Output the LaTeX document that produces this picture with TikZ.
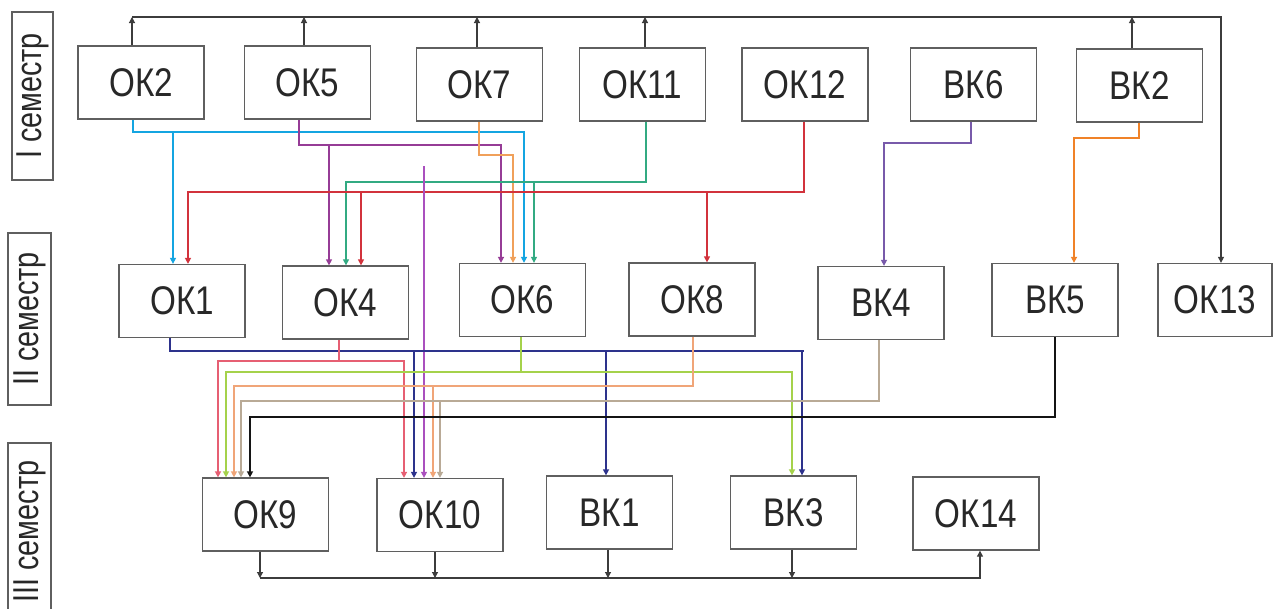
\documentclass[tikz,border=0pt]{standalone}
\usepackage{fontspec}
\setmainfont{Liberation Sans}
\newfontfamily\boxfont[FakeStretch=0.83]{Liberation Sans}
\newfontfamily\semfont[FakeStretch=0.8]{Liberation Sans}
\usetikzlibrary{arrows.meta}
\definecolor{boxgray}{RGB}{95,95,95}
\definecolor{textgray}{RGB}{40,40,40}
\definecolor{cyanL}{RGB}{20,165,225}
\definecolor{purpL}{RGB}{150,60,150}
\definecolor{orL}{RGB}{240,160,90}
\definecolor{tealL}{RGB}{50,170,130}
\definecolor{redL}{RGB}{210,50,60}
\definecolor{magL}{RGB}{170,80,190}
\definecolor{violL}{RGB}{120,90,170}
\definecolor{orTwo}{RGB}{240,130,40}
\definecolor{navyL}{RGB}{45,50,140}
\definecolor{pinkL}{RGB}{230,95,115}
\definecolor{ygL}{RGB}{165,210,75}
\definecolor{peachL}{RGB}{240,165,120}
\definecolor{tanL}{RGB}{185,170,150}
\definecolor{blackL}{RGB}{20,20,20}
\definecolor{busL}{RGB}{60,60,60}
\begin{document}
\begin{tikzpicture}[x=1pt,y=-1pt,
  kbox/.style={draw=boxgray,line width=1.3pt,minimum width=126pt,minimum height=73pt,inner sep=0pt,
    font=\boxfont\fontsize{40}{44}\selectfont,text=textgray},
  sembox/.style={draw=boxgray,line width=1.3pt,inner sep=0pt,rotate=90,
    font=\semfont\fontsize{36}{40}\selectfont,text=textgray},
  tip/.style={-{Triangle[length=6pt,width=6pt]}},
  bus/.style={draw=busL,line width=1.1pt},
  lnk/.style={line width=#1},
  lnk/.default=1.5pt]
\fill[white] (0,0) rectangle (1274,608);
\useasboundingbox (0,0) rectangle (1274,608);

% semester labels
\node[sembox,minimum width=168pt,minimum height=41pt] (s1) at (32.5,96) {I семестр};
\node[sembox,minimum width=172pt,minimum height=43pt] (s2) at (29.5,319) {II семестр};
\node[sembox,minimum width=177pt,minimum height=43pt] (s3) at (29.5,531.5) {III семестр};

% row 1
\node[kbox] (ok2) at (141,82.5) {ОК2};
\node[kbox] (ok5) at (307.5,82.5) {ОК5};
\node[kbox] (ok7) at (479.5,84.5) {ОК7};
\node[kbox] (ok11) at (642.5,84.5) {ОК11};
\node[kbox] (ok12) at (805,84.5) {ОК12};
\node[kbox] (vk6) at (973.5,84.5) {ВК6};
\node[kbox] (vk2) at (1139.5,85.5) {ВК2};
% row 2
\node[kbox] (ok1) at (182,301) {ОК1};
\node[kbox] (ok4) at (345.5,302.5) {ОК4};
\node[kbox] (ok6) at (522.5,300) {ОК6};
\node[kbox] (ok8) at (692,299.5) {ОК8};
\node[kbox] (vk4) at (881,303) {ВК4};
\node[kbox] (vk5) at (1055,300) {ВК5};
\node[kbox,minimum width=114pt] (ok13) at (1215,300) {ОК13};
% row 3
\node[kbox] (ok9) at (265.5,514.5) {ОК9};
\node[kbox] (ok10) at (440,515) {ОК10};
\node[kbox] (vk1) at (609.5,512.5) {ВК1};
\node[kbox] (vk3) at (793.5,512.5) {ВК3};
\node[kbox] (ok14) at (976,513.5) {ОК14};

% ---------- top bus ----------
\coordinate (hTop) at (0,17);
\coordinate (u2) at ([xshift=-9pt]ok2.north);
\coordinate (u5) at ([xshift=-3.5pt]ok5.north);
\coordinate (u7) at ([xshift=-2.5pt]ok7.north);
\coordinate (u11) at ([xshift=2.5pt]ok11.north);
\coordinate (uv2) at ([xshift=-7.5pt]vk2.north);
\coordinate (n13) at ([xshift=6pt]ok13.north);
\draw[bus,tip] (u2 |- hTop) -- (n13 |- hTop) -- (n13);
\foreach \c in {u2,u5,u7,u11,uv2} \draw[bus,tip] (\c) -- (\c |- hTop);

% ---------- bottom bus ----------
\coordinate (hBot) at (0,578);
\coordinate (d9) at ([xshift=-5.5pt]ok9.south);
\coordinate (d10) at ([xshift=-5pt]ok10.south);
\coordinate (dv1) at ([xshift=-1.5pt]vk1.south);
\coordinate (dv3) at ([xshift=-1.5pt]vk3.south);
\coordinate (s14) at ([xshift=4pt]ok14.south);
\draw[bus,tip] (d9 |- hBot) -- (s14 |- hBot) -- (s14);
\foreach \c in {d9,d10,dv1,dv3} \draw[bus,tip] (\c) -- (\c |- hBot);

% ---------- cyan: OK2 ----------
\coordinate (hCy) at (0,132);
\coordinate (ok2c) at ([xshift=-8pt]ok2.south);
\coordinate (ok1cy) at ([xshift=-9pt]ok1.north);
\coordinate (ok6cy) at ([xshift=1.5pt]ok6.north);
\draw[cyanL,lnk=2.2pt,tip] (ok2c) -- (ok2c |- hCy) -| (ok6cy);
\draw[cyanL,lnk=1.3pt,tip] (ok1cy |- hCy) -- (ok1cy);

% ---------- purple: OK5 ----------
\coordinate (hPu) at (0,145);
\coordinate (ok5p) at ([xshift=-8.5pt]ok5.south);
\coordinate (ok4pu) at ([xshift=-16.5pt]ok4.north);
\coordinate (ok6pu) at ([xshift=-21.5pt]ok6.north);
\draw[purpL,lnk=1.9pt,tip] (ok5p) -- (ok5p |- hPu) -| (ok6pu);
\draw[purpL,lnk=1.3pt,tip] (ok4pu |- hPu) -- (ok4pu);

% ---------- orange: OK7 ----------
\coordinate (hOr) at (0,155);
\coordinate (ok7o) at ([xshift=-0.5pt]ok7.south);
\coordinate (ok6or) at ([xshift=-9.5pt]ok6.north);
\draw[orL,lnk=1.6pt,tip] (ok7o) -- (ok7o |- hOr) -| (ok6or);

% ---------- teal: OK11 ----------
\coordinate (hTe) at (0,182);
\coordinate (ok11t) at ([xshift=3.5pt]ok11.south);
\coordinate (ok4te) at ([xshift=0.5pt]ok4.north);
\coordinate (ok6te) at ([xshift=11.5pt]ok6.north);
\draw[tealL,lnk=1.2pt,tip] (ok11t) -- (ok11t |- hTe) -| (ok4te);
\draw[tealL,lnk=1.2pt,tip] (ok6te |- hTe) -- (ok6te);

% ---------- red: OK12 ----------
\coordinate (hRe) at (0,192);
\coordinate (ok12r) at ([xshift=-1pt]ok12.south);
\coordinate (ok1re) at ([xshift=6pt]ok1.north);
\coordinate (ok4re) at ([xshift=15.5pt]ok4.north);
\coordinate (ok8re) at ([xshift=15pt]ok8.north);
\draw[redL,lnk=2pt,tip] (ok12r) -- (ok12r |- hRe) -| (ok1re);
\draw[redL,lnk=1.3pt,tip] (ok4re |- hRe) -- (ok4re);
\draw[redL,lnk=1.3pt,tip] (ok8re |- hRe) -- (ok8re);

% ---------- magenta: to OK10 ----------
\coordinate (mTop) at (424,166);
\coordinate (ok10ma) at ([xshift=-16pt]ok10.north);
\draw[magL,lnk=1.3pt,tip] (mTop) -- (ok10ma);

% ---------- violet: VK6 ----------
\coordinate (hVi) at (0,143);
\coordinate (vk6v) at ([xshift=-2.5pt]vk6.south);
\coordinate (vk4vi) at ([xshift=3pt]vk4.north);
\draw[violL,lnk=1.4pt,tip] (vk6v) -- (vk6v |- hVi) -| (vk4vi);

% ---------- orange thick: VK2 ----------
\coordinate (hOt) at (0,138);
\coordinate (vk2o) at ([xshift=-0.5pt]vk2.south);
\coordinate (vk5o) at ([xshift=19pt]vk5.north);
\draw[orTwo,lnk=2.2pt,tip] (vk2o) -- (vk2o |- hOt) -| (vk5o);

% ---------- navy: OK1 ----------
\coordinate (hNa) at (0,351);
\coordinate (ok1n) at ([xshift=-12pt]ok1.south);
\coordinate (ok10na) at ([xshift=-26pt]ok10.north);
\coordinate (vk1na) at ([xshift=-3.5pt]vk1.north);
\coordinate (vk3na) at ([xshift=8.5pt]vk3.north);
\draw[navyL,lnk=2pt] (ok1n) -- (ok1n |- hNa) -- ([xshift=2pt]vk3na |- hNa);
\draw[navyL,lnk=1.4pt,tip] (vk3na |- hNa) -- (vk3na);
\draw[navyL,lnk=1.4pt,tip] (ok10na |- hNa) -- (ok10na);
\draw[navyL,lnk=1.4pt,tip] (vk1na |- hNa) -- (vk1na);

% ---------- pink: OK4 ----------
\coordinate (hPi) at (0,361);
\coordinate (ok4pi) at ([xshift=-6.5pt]ok4.south);
\coordinate (ok9pi) at ([xshift=-47.5pt]ok9.north);
\coordinate (ok10pi) at ([xshift=-36pt]ok10.north);
\draw[pinkL,lnk=1.8pt,tip] (ok4pi) -- (ok4pi |- hPi) -| (ok9pi);
\draw[pinkL,lnk=1.8pt,tip] (ok4pi |- hPi) -| (ok10pi);

% ---------- yellow-green: OK6 ----------
\coordinate (hYg) at (0,372);
\coordinate (ok6y) at ([xshift=-1.5pt]ok6.south);
\coordinate (ok9yg) at ([xshift=-39.5pt]ok9.north);
\coordinate (vk3yg) at ([xshift=-1.5pt]vk3.north);
\draw[ygL,lnk=2pt,tip] (ok6y) -- (ok6y |- hYg) -| (ok9yg);
\draw[ygL,lnk=2pt,tip] (ok6y |- hYg) -| (vk3yg);

% ---------- peach: OK8 ----------
\coordinate (hPe) at (0,386);
\coordinate (ok8p) at ([xshift=1pt]ok8.south);
\coordinate (ok9pe) at ([xshift=-31.5pt]ok9.north);
\coordinate (ok10pe) at ([xshift=-7pt]ok10.north);
\draw[peachL,lnk=1.6pt,tip] (ok8p) -- (ok8p |- hPe) -| (ok9pe);
\draw[peachL,lnk=1.6pt,tip] (ok10pe |- hPe) -- (ok10pe);

% ---------- tan: VK4 ----------
\coordinate (hTa) at (0,401);
\coordinate (vk4t) at ([xshift=-2pt]vk4.south);
\coordinate (ok9ta) at ([xshift=-24.5pt]ok9.north);
\coordinate (ok10ta) at ([xshift=0pt]ok10.north);
\draw[tanL,lnk=2pt,tip] (vk4t) -- (vk4t |- hTa) -| (ok9ta);
\draw[tanL,lnk=1.6pt,tip] (ok10ta |- hTa) -- (ok10ta);

% ---------- black: VK5 ----------
\coordinate (hBl) at (0,417);
\coordinate (vk5b) at (vk5.south);
\coordinate (ok9bl) at ([xshift=-15.5pt]ok9.north);
\draw[blackL,lnk=2.8pt,tip] (vk5b) -- (vk5b |- hBl) -| (ok9bl);
\end{tikzpicture}
\end{document}
